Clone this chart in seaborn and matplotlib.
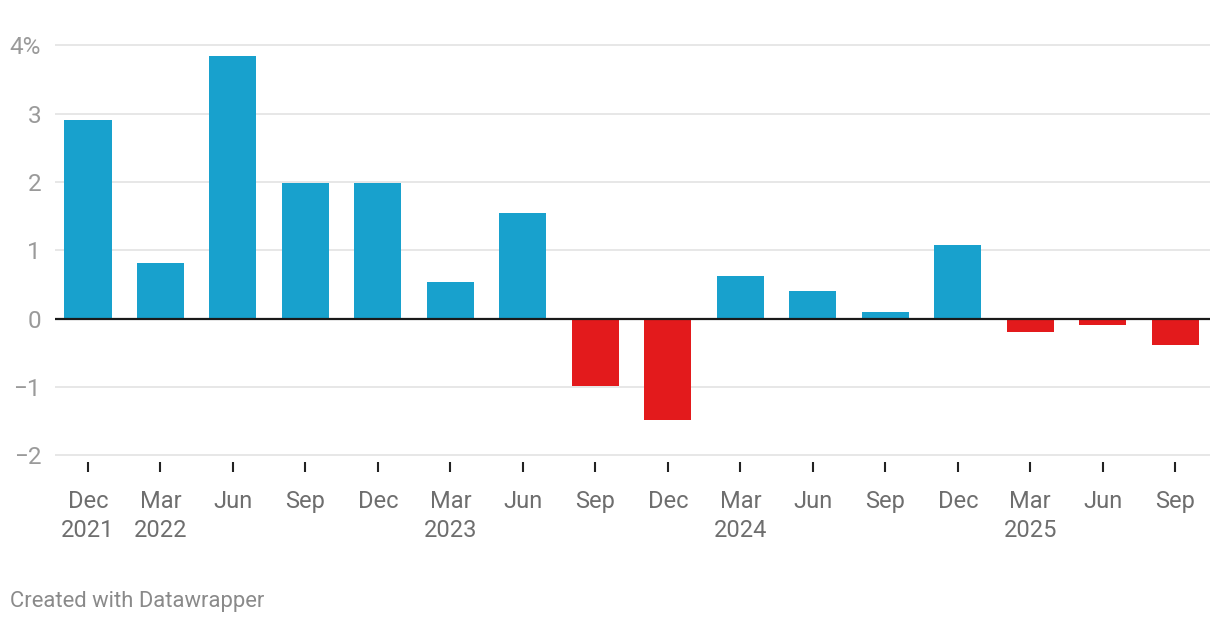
import matplotlib
matplotlib.use("Agg")
import matplotlib.pyplot as plt
import seaborn as sns
import pandas as pd

# quarterly change, %
periods = ["2021-12", "2022-03", "2022-06", "2022-09", "2022-12",
           "2023-03", "2023-06", "2023-09", "2023-12",
           "2024-03", "2024-06", "2024-09", "2024-12",
           "2025-03", "2025-06", "2025-09"]
values = [2.91, 0.82, 3.85, 1.98, 1.99, 0.53, 1.54, -0.99, -1.49,
          0.62, 0.40, 0.10, 1.08, -0.19, -0.09, -0.38]
tick_labels = ["Dec\n2021", "Mar\n2022", "Jun", "Sep", "Dec", "Mar\n2023", "Jun", "Sep",
               "Dec", "Mar\n2024", "Jun", "Sep", "Dec", "Mar\n2025", "Jun", "Sep"]
y_ticks = [-2, -1, 0, 1, 2, 3, 4]
y_labels = ["\u22122", "\u22121", "0", "1", "2", "3", "4%"]

df = pd.DataFrame({"period": periods, "value": values})
df["sign"] = ["pos" if v >= 0 else "neg" for v in df["value"]]

sns.set_style("white")
plt.rcParams["font.family"] = ["Roboto", "DejaVu Sans"]

fig = plt.figure(figsize=(12.2, 6.24), dpi=100)
ax = fig.add_axes([55 / 1220, 1 - 462 / 624, 1155 / 1220, 418 / 624])

sns.barplot(data=df, x="period", y="value", hue="sign", order=periods,
            palette={"pos": "#18a1cd", "neg": "#e31a1c"}, dodge=False,
            width=0.65, saturation=1, legend=False, ax=ax, zorder=3,
            linewidth=0)

ax.set_xlim(-0.455, len(periods) - 1 + 0.48)
ax.set_ylim(-2.1, 4.02)

for t in y_ticks:
    if t == 0:
        ax.axhline(0, color="#1a1a1a", lw=1.6, zorder=4)
    else:
        ax.axhline(t, color="#e3e3e3", lw=1.2, zorder=1)

ax.set_yticks(y_ticks)
ax.set_yticklabels(y_labels)
ax.set_xticks(range(len(periods)))
ax.set_xticklabels(tick_labels, linespacing=1.3)

ax.tick_params(axis="y", left=False, length=0, pad=10, labelsize=17.5, labelcolor="#9a9a9a")
ax.tick_params(axis="x", bottom=True, length=7.5, width=1.5, color="#222222", pad=13,
               labelsize=17, labelcolor="#6e6e6e", direction="out")
for lab in ax.get_xticklabels():
    lab.set_verticalalignment("top")

for s in ax.spines.values():
    s.set_visible(False)
ax.set_xlabel("")
ax.set_ylabel("")

fig.text(10 / 1220, 1 - 601 / 624, "Created with Datawrapper", fontsize=15.8,
         color="#8a8a8a", va="center", ha="left")

fig.savefig("out.png", dpi=100)
